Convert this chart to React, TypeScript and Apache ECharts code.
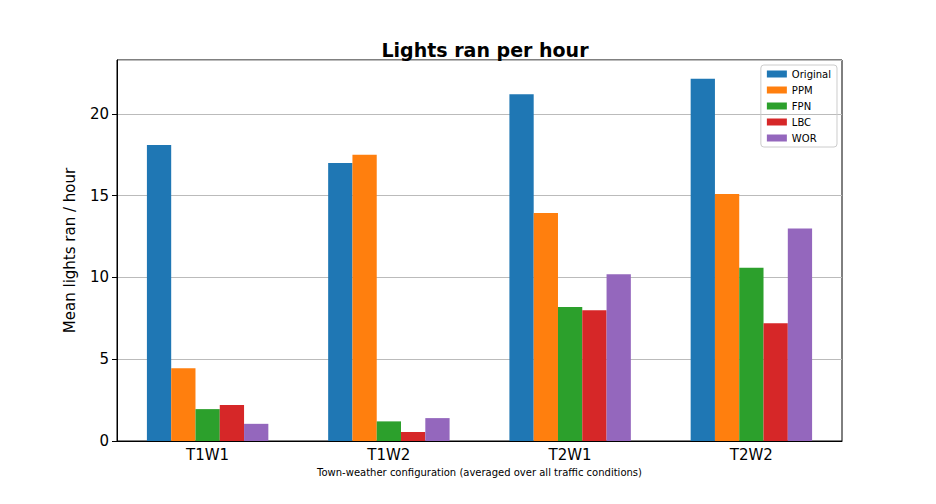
import { useEffect, useRef } from 'react';
import * as echarts from 'echarts';

const categories = ['T1W1', 'T1W2', 'T2W1', 'T2W2'];
const seriesNames = ['Original', 'PPM', 'FPN', 'LBC', 'WOR'];
const colors = ['#1f77b4', '#ff7f0e', '#2ca02c', '#d62728', '#9467bd'];
const original = [18.1, 17.0, 21.2, 22.15];
const ppm = [4.45, 17.5, 13.95, 15.1];
const fpn = [1.95, 1.2, 8.2, 10.6];
const lbc = [2.2, 0.55, 8.0, 7.2];
const wor = [1.05, 1.4, 10.2, 13.0];
const values = [original, ppm, fpn, lbc, wor];

export default function App() {
  const ref = useRef<HTMLDivElement>(null);

  useEffect(() => {
    if (!ref.current) return;
    const chart = echarts.init(ref.current, undefined, { renderer: 'svg' });
    chart.setOption({
      animation: false,
      textStyle: { fontFamily: 'DejaVu Sans' },
      title: {
        text: 'Lights ran per hour',
        left: 472,
        top: 27,
        textAlign: 'center',
        textStyle: { fontSize: 19, fontWeight: 'bold', color: '#000' },
      },
      legend: {
        orient: 'vertical',
        right: 91,
        top: 57,
        itemWidth: 20,
        itemHeight: 7,
        itemGap: 6,
        padding: [4, 6],
        borderColor: '#ccc',
        borderWidth: 1,
        borderRadius: 3,
        icon: 'rect',
        textStyle: { fontSize: 10, color: '#000' },
        data: seriesNames,
      },
      grid: {
        left: 109,
        right: 86,
        top: 52,
        bottom: 55,
        show: true,
        borderColor: '#000',
        borderWidth: 1,
      },
      xAxis: {
        type: 'category',
        data: categories,
        name: 'Town-weather configuration (averaged over all traffic conditions)',
        nameLocation: 'middle',
        nameGap: 26,
        nameTextStyle: { fontSize: 10, color: '#000' },
        axisLine: { lineStyle: { color: '#000' } },
        axisTick: { alignWithLabel: true, lineStyle: { color: '#000' } },
        axisLabel: { fontSize: 15, color: '#000', margin: 6 },
      },
      yAxis: {
        type: 'value',
        min: 0,
        max: 23.3,
        interval: 5,
        name: 'Mean lights ran / hour',
        nameLocation: 'middle',
        nameGap: 40,
        nameTextStyle: { fontSize: 15, color: '#000' },
        axisLine: { show: true, lineStyle: { color: '#000' } },
        axisTick: { show: true, lineStyle: { color: '#000' } },
        axisLabel: { fontSize: 15, color: '#000', showMaxLabel: false },
        splitLine: { lineStyle: { color: '#bbb' } },
      },
      series: seriesNames.map((name, i) => ({
        name,
        type: 'bar',
        data: values[i],
        barGap: '0%',
        barCategoryGap: '33%',
        itemStyle: { color: colors[i] },
      })),
    });
    return () => chart.dispose();
  }, []);

  return <div ref={ref} style={{ width: 920, height: 488 }} />;
}
